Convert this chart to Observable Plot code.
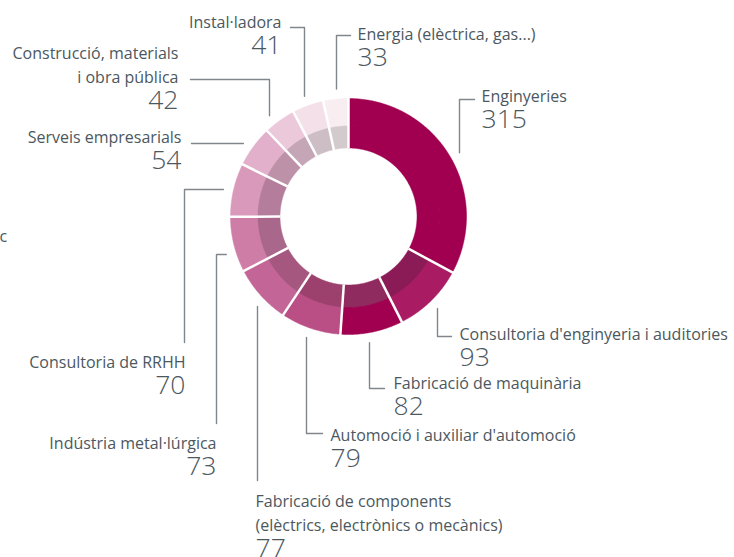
<!DOCTYPE html>
<html>
<head>
<meta charset="utf-8">
<script src="https://cdn.jsdelivr.net/npm/d3@7"></script>
<script src="https://cdn.jsdelivr.net/npm/@observablehq/plot@0.6"></script>
<style>
  html, body { margin: 0; padding: 0; background: #ffffff; overflow: hidden; }
</style>
</head>
<body>
<div id="chart"></div>
<script>
// ---- Data ----
const categories = [
  "Enginyeries",
  "Consultoria d'enginyeria i auditories",
  "Fabricació de maquinària",
  "Automoció i auxiliar d'automoció",
  "Fabricació de components\n(elèctrics, electrònics o mecànics)",
  "Indústria metal·lúrgica",
  "Consultoria de RRHH",
  "Serveis empresarials",
  "Construcció, materials\ni obra pública",
  "Instal·ladora",
  "Energia (elèctrica, gas...)"
];
const values = [315, 93, 82, 79, 77, 73, 70, 54, 42, 41, 33];
const valueLabels = values.map(String);
const clippedLabel = ["c"];

// ---- Styles ----
const outerColors = ["#a0004f", "#a91c63", "#a0004f", "#b94f85", "#c46597", "#ce7da7",
                     "#d899bb", "#e2b0cb", "#ecc9da", "#f3e0e9", "#f8eef2"];
const innerColors = ["#a0004f", "#8b1b56", "#8f2b5e", "#9c416d", "#a5577f", "#a9688b",
                     "#b47d9b", "#bd91a8", "#c4a6b6", "#cdbdc5", "#d3cace"];
const textColor = "#4b5860";
const leaderColor = "#80868a";

// ---- Layout (pixel units of the identity scales) ----
const W = 734, H = 557;
const CX = 348, CY = 216;
const R_OUT = 118, R_MID = 91, R_IN = 69, R_LEAD = 128;
const layout = [
  {anchor: "start", tx: 481, ty: 101, route: "v", vx: 459, ey: 99,  ex: 474},
  {anchor: "start", tx: 459, ty: 339, route: "v", vx: 437, ey: 336, ex: 451},
  {anchor: "start", tx: 393, ty: 388, route: "v", vx: 369, ey: 388, ex: 384},
  {anchor: "start", tx: 330, ty: 440, route: "v", vx: 306, ey: 433, ex: 322},
  {anchor: "start", tx: 255, ty: 530, route: "v", vx: 257, ey: 480, ex: 257},
  {anchor: "end",   tx: 216, ty: 448, route: "h", hy: 254, ex: 216, ey: 423},
  {anchor: "end",   tx: 185, ty: 367, route: "h", hy: 189, ex: 184, ey: 342},
  {anchor: "end",   tx: 181, ty: 142, route: "h", hy: 143, ex: 191, ey: 143},
  {anchor: "end",   tx: 178, ty: 82,  route: "v", vx: 269, ey: 79,  ex: 190},
  {anchor: "end",   tx: 281, ty: 27,  route: "v", vx: 304, ey: 27,  ex: 290},
  {anchor: "start", tx: 357, ty: 39,  route: "v", vx: 336, ey: 35,  ex: 350}
];
const NUM_OFFSET = 26;

// ---- Geometry ----
const arcs = d3.pie().sort(null).value(d => d)(values);
const pt = (a, r) => ({x: CX + r * Math.sin(a), y: CY - r * Math.cos(a)});

function ring(a0, a1, r0, r1) {
  const n = Math.max(2, Math.ceil((a1 - a0) / (Math.PI / 360)));
  const pts = [];
  for (let i = 0; i <= n; i++) pts.push(pt(a0 + (a1 - a0) * i / n, r1));
  for (let i = n; i >= 0; i--) pts.push(pt(a0 + (a1 - a0) * i / n, r0));
  return pts;
}

const polys = [];
arcs.forEach((d, i) => {
  ring(d.startAngle, d.endAngle, R_IN - 0.5, R_MID + 0.5).forEach(p => polys.push({...p, id: "i" + i, color: innerColors[i]}));
});
arcs.forEach((d, i) => {
  ring(d.startAngle, d.endAngle, R_MID, R_OUT).forEach(p => polys.push({...p, id: "o" + i, color: outerColors[i]}));
});

const seps = arcs.map(d => {
  const p0 = pt(d.startAngle, R_IN - 1), p1 = pt(d.startAngle, R_OUT + 1);
  return {x1: p0.x, y1: p0.y, x2: p1.x, y2: p1.y};
});

const leaders = [];
layout.forEach((L, i) => {
  let pts;
  if (L.route === "v") {
    const dy = Math.sqrt(Math.max(0, R_LEAD * R_LEAD - (L.vx - CX) ** 2));
    const sy = L.ey < CY ? CY - dy : CY + dy;
    pts = [{x: L.vx, y: sy}, {x: L.vx, y: L.ey}, {x: L.ex, y: L.ey}];
  } else {
    const dx = Math.sqrt(Math.max(0, R_LEAD * R_LEAD - (L.hy - CY) ** 2));
    const sx = L.ex < CX ? CX - dx : CX + dx;
    pts = [{x: sx, y: L.hy}, {x: L.ex, y: L.hy}, {x: L.ex, y: L.ey}];
  }
  pts.forEach(p => leaders.push({...p, id: i}));
});

const nameRows = categories.map((c, i) => ({text: c, x: layout[i].tx, y: layout[i].ty, anchor: layout[i].anchor}));
const numRows = valueLabels.map((v, i) => ({text: v, x: layout[i].tx, y: layout[i].ty + NUM_OFFSET, anchor: layout[i].anchor}));
const startNames = nameRows.filter(d => d.anchor === "start");
const endNames = nameRows.filter(d => d.anchor === "end");
const startNums = numRows.filter(d => d.anchor === "start");
const endNums = numRows.filter(d => d.anchor === "end");

const font = "'Open Sans', 'Noto Sans', sans-serif";
const NAME_SIZE = 16;
const NUM_SIZE = 26.5;

const chart = Plot.plot({
  width: W,
  height: H,
  margin: 0,
  x: {domain: [0, W], range: [0, W], axis: null},
  y: {domain: [0, H], range: [0, H], axis: null},
  color: {type: "identity"},
  style: {fontFamily: font, background: "#ffffff", overflow: "hidden"},
  marks: [
    Plot.line(polys, {x: "x", y: "y", z: "id", fill: "color", stroke: "color", strokeWidth: 0.5, curve: "linear-closed"}),
    Plot.link(seps, {x1: "x1", y1: "y1", x2: "x2", y2: "y2", stroke: "#ffffff", strokeWidth: 2.5}),
    Plot.line(leaders, {x: "x", y: "y", z: "id", stroke: leaderColor, strokeWidth: 1.4}),
    Plot.text(startNames, {x: "x", y: "y", text: "text", textAnchor: "start", lineAnchor: "bottom", lineHeight: 1.44, fontSize: NAME_SIZE, fill: textColor, fontFamily: font}),
    Plot.text(endNames, {x: "x", y: "y", text: "text", textAnchor: "end", lineAnchor: "bottom", lineHeight: 1.44, fontSize: NAME_SIZE, fill: textColor, fontFamily: font}),
    Plot.text(startNums, {x: "x", y: "y", text: "text", textAnchor: "start", lineAnchor: "bottom", fontSize: NUM_SIZE, fontWeight: 300, fill: textColor, fontFamily: font}),
    Plot.text(endNums, {x: "x", y: "y", text: "text", textAnchor: "end", lineAnchor: "bottom", fontSize: NUM_SIZE, fontWeight: 300, fill: textColor, fontFamily: font}),
    Plot.text(clippedLabel, {x: () => -1, y: () => 241, text: d => d, textAnchor: "start", lineAnchor: "bottom", fontSize: NAME_SIZE, fill: textColor, fontFamily: font})
  ]
});
document.getElementById("chart").appendChild(chart);
</script>
</body>
</html>
